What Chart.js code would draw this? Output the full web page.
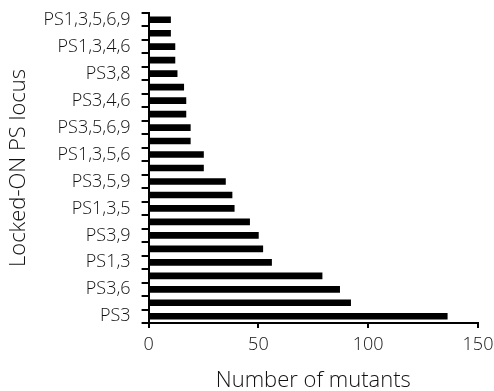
<!DOCTYPE html>
<html>
<head>
<meta charset="utf-8">
<script src="https://cdn.jsdelivr.net/npm/chart.js@4/dist/chart.umd.min.js"></script>
<style>
  html, body { margin: 0; padding: 0; background: #fff; }
  #wrap { width: 494px; height: 391px; }
</style>
</head>
<body>
<div id="wrap"><canvas id="chart"></canvas></div>
<script>
// loci, top to bottom; only every other one is labelled in the figure
const loci = [
  'PS1,3,5,6,9', '', 'PS1,3,4,6', '', 'PS3,8', '', 'PS3,4,6', '',
  'PS3,5,6,9', '', 'PS1,3,5,6', '', 'PS3,5,9', '', 'PS1,3,5', '',
  'PS3,9', '', 'PS1,3', '', 'PS3,6', '', 'PS3'
];
const mutants = [
  10, 10, 12, 12, 13, 16, 17, 17, 19, 19, 25, 25,
  35, 38, 39, 46, 50, 52, 56, 79, 87, 92, 136
];
const xTicks = [0, 50, 100, 150];

const FONT = "'Open Sans', 'DejaVu Sans', sans-serif";
const INK = '#111';

// keep the tick labels from pushing the plot area inwards
const noEdgePadding = s => {
  s.paddingTop = 0; s.paddingBottom = 0;
  s.paddingLeft = 0; s.paddingRight = 0;
};

new Chart(document.getElementById('chart'), {
  type: 'bar',
  data: {
    labels: loci,
    datasets: [{
      data: mutants,
      backgroundColor: '#000',
      borderWidth: 0,
      barThickness: 6
    }]
  },
  options: {
    indexAxis: 'y',
    responsive: true,
    maintainAspectRatio: false,
    animation: false,
    layout: { padding: { top: 13, right: 16, bottom: -3, left: 6 } },
    plugins: { legend: { display: false }, tooltip: { enabled: false } },
    scales: {
      x: {
        min: 0,
        max: 150,
        afterBuildTicks: axis => { axis.ticks = xTicks.map(v => ({ value: v })); },
        afterFit: noEdgePadding,
        border: { display: true, color: '#000', width: 2 },
        grid: { drawOnChartArea: false, color: '#000', lineWidth: 2, tickLength: 5 },
        ticks: { color: INK, font: { family: FONT, size: 18, weight: 300 }, padding: 6, maxRotation: 0 },
        title: { display: true, text: 'Number of mutants', color: INK, font: { family: FONT, size: 22, weight: 300 }, padding: { top: 6, bottom: 0 } }
      },
      y: {
        afterFit: noEdgePadding,
        border: { display: true, color: '#000', width: 2 },
        grid: { offset: true, drawOnChartArea: false, color: '#000', lineWidth: 2, tickLength: 7 },
        ticks: { color: INK, autoSkip: false, font: { family: FONT, size: 18, weight: 300 }, padding: 11 },
        title: { display: true, text: 'Locked-ON PS locus', color: INK, font: { family: FONT, size: 22, weight: 300 }, padding: { top: 0, bottom: 0 } }
      }
    }
  }
});
</script>
</body>
</html>
